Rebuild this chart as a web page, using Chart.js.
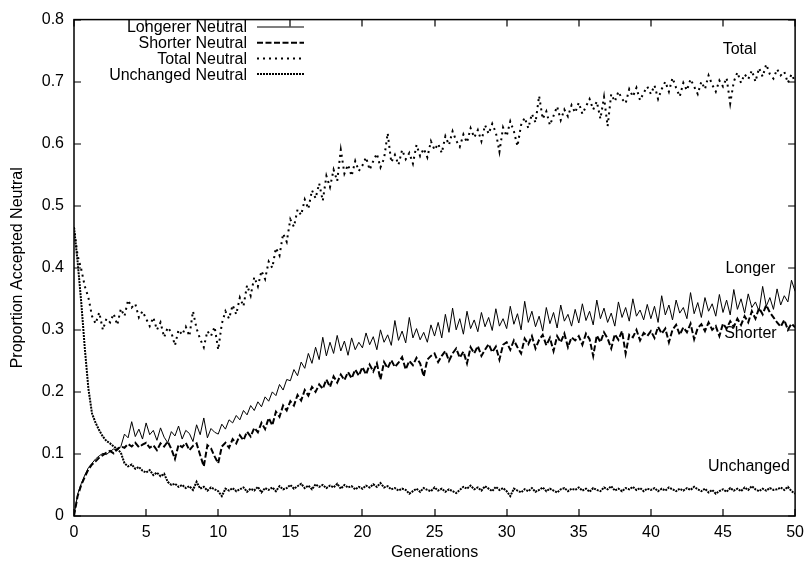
<!DOCTYPE html>
<html>
<head>
<meta charset="utf-8">
<title>Proportion Accepted Neutral</title>
<script src="https://cdn.jsdelivr.net/npm/chart.js@4"></script>
<style>
  html, body { margin: 0; padding: 0; background: #fff; }
  #wrap { width: 811px; height: 567px; }
</style>
</head>
<body>
<div id="wrap"><canvas id="chart" width="811" height="567"></canvas></div>
<script>
// One sample every quarter generation, generations 0..50 (201 samples per series)
const STEP = 0.25;

const longer = [
  0.000, 0.035, 0.052, 0.066, 0.078, 0.085, 0.092, 0.097, 0.101, 0.099, 0.104, 0.108, 0.106, 0.112, 0.132, 0.126, 0.152, 0.128, 0.140, 0.124,
  0.150, 0.131, 0.138, 0.122, 0.142, 0.127, 0.118, 0.136, 0.129, 0.145, 0.124, 0.138, 0.133, 0.120, 0.147, 0.131, 0.158, 0.126, 0.141, 0.135,
  0.132, 0.148, 0.140, 0.155, 0.150, 0.162, 0.155, 0.170, 0.163, 0.178, 0.170, 0.184, 0.176, 0.192, 0.185, 0.200, 0.194, 0.212, 0.203, 0.220,
  0.218, 0.236, 0.226, 0.248, 0.238, 0.262, 0.246, 0.272, 0.252, 0.288, 0.258, 0.280, 0.262, 0.291, 0.266, 0.282, 0.259, 0.287, 0.268, 0.280,
  0.271, 0.295, 0.276, 0.289, 0.268, 0.300, 0.280, 0.292, 0.275, 0.315, 0.283, 0.298, 0.279, 0.320, 0.287, 0.302, 0.284, 0.296, 0.280, 0.308,
  0.290, 0.312, 0.287, 0.325, 0.296, 0.335, 0.300, 0.318, 0.293, 0.330, 0.302, 0.316, 0.297, 0.328, 0.305, 0.320, 0.299, 0.334, 0.306, 0.318,
  0.302, 0.338, 0.309, 0.326, 0.300, 0.346, 0.312, 0.330, 0.305, 0.322, 0.298, 0.336, 0.310, 0.328, 0.303, 0.340, 0.314, 0.325, 0.306, 0.333,
  0.311, 0.342, 0.315, 0.330, 0.308, 0.348, 0.318, 0.335, 0.312, 0.327, 0.306, 0.345, 0.320, 0.336, 0.314, 0.350, 0.322, 0.332, 0.316, 0.341,
  0.318, 0.338, 0.312, 0.355, 0.324, 0.340, 0.316, 0.348, 0.327, 0.336, 0.318, 0.360, 0.326, 0.344, 0.320, 0.352, 0.330, 0.342, 0.322, 0.357,
  0.328, 0.348, 0.324, 0.365, 0.333, 0.350, 0.327, 0.358, 0.336, 0.345, 0.330, 0.370, 0.338, 0.352, 0.333, 0.366, 0.340, 0.355, 0.345, 0.380, 0.362
];

const shorter = [
  0.000, 0.032, 0.050, 0.063, 0.075, 0.083, 0.088, 0.094, 0.098, 0.102, 0.105, 0.101, 0.108, 0.112, 0.110, 0.116, 0.112, 0.118, 0.111, 0.115,
  0.118, 0.110, 0.114, 0.106, 0.117, 0.112, 0.120, 0.108, 0.092, 0.115, 0.111, 0.118, 0.106, 0.113, 0.117, 0.098, 0.080, 0.114, 0.109, 0.096,
  0.085, 0.112, 0.118, 0.110, 0.124, 0.117, 0.130, 0.122, 0.136, 0.128, 0.142, 0.135, 0.150, 0.140, 0.158, 0.146, 0.168, 0.160, 0.178, 0.170,
  0.185, 0.178, 0.195, 0.186, 0.203, 0.194, 0.208, 0.200, 0.212, 0.205, 0.220, 0.208, 0.225, 0.215, 0.228, 0.219, 0.232, 0.222, 0.236, 0.226,
  0.240, 0.228, 0.244, 0.233, 0.246, 0.220, 0.248, 0.238, 0.251, 0.240, 0.247, 0.256, 0.236, 0.250, 0.243, 0.255, 0.246, 0.225, 0.252, 0.258,
  0.262, 0.248, 0.258, 0.266, 0.250, 0.262, 0.270, 0.255, 0.265, 0.246, 0.272, 0.262, 0.274, 0.258, 0.268, 0.277, 0.264, 0.273, 0.252, 0.276,
  0.280, 0.268, 0.283, 0.272, 0.262, 0.286, 0.277, 0.290, 0.270, 0.284, 0.292, 0.275, 0.287, 0.266, 0.290, 0.280, 0.294, 0.272, 0.288, 0.283,
  0.290, 0.276, 0.294, 0.285, 0.258, 0.291, 0.280, 0.296, 0.286, 0.270, 0.293, 0.284, 0.298, 0.262, 0.292, 0.288, 0.300, 0.283, 0.295, 0.290,
  0.298, 0.287, 0.305, 0.294, 0.302, 0.280, 0.300, 0.308, 0.292, 0.304, 0.296, 0.310, 0.285, 0.303, 0.309, 0.298, 0.312, 0.300, 0.306, 0.290,
  0.310, 0.302, 0.314, 0.305, 0.318, 0.308, 0.322, 0.312, 0.330, 0.318, 0.335, 0.325, 0.340, 0.328, 0.320, 0.312, 0.305, 0.316, 0.300, 0.310, 0.304
];

const total = [
  0.465, 0.420, 0.398, 0.370, 0.352, 0.322, 0.310, 0.328, 0.300, 0.318, 0.312, 0.326, 0.308, 0.334, 0.322, 0.348, 0.336, 0.342, 0.320, 0.330,
  0.318, 0.306, 0.320, 0.300, 0.312, 0.288, 0.304, 0.296, 0.275, 0.300, 0.292, 0.305, 0.290, 0.330, 0.302, 0.285, 0.272, 0.298, 0.290, 0.305,
  0.268, 0.310, 0.330, 0.318, 0.340, 0.325, 0.352, 0.338, 0.372, 0.355, 0.385, 0.370, 0.395, 0.382, 0.410, 0.400, 0.432, 0.420, 0.455, 0.442,
  0.478, 0.466, 0.494, 0.485, 0.510, 0.495, 0.525, 0.512, 0.536, 0.508, 0.548, 0.530, 0.558, 0.540, 0.590, 0.552, 0.566, 0.548, 0.572, 0.556,
  0.565, 0.578, 0.558, 0.572, 0.584, 0.562, 0.576, 0.617, 0.570, 0.582, 0.566, 0.590, 0.575, 0.585, 0.568, 0.598, 0.580, 0.592, 0.578, 0.604,
  0.590, 0.600, 0.585, 0.612, 0.598, 0.620, 0.605, 0.595, 0.615, 0.602, 0.625, 0.610, 0.622, 0.604, 0.630, 0.616, 0.632, 0.618, 0.587, 0.626,
  0.612, 0.636, 0.620, 0.596, 0.630, 0.642, 0.625, 0.648, 0.634, 0.677, 0.640, 0.652, 0.630, 0.645, 0.660, 0.638, 0.655, 0.644, 0.662, 0.650,
  0.666, 0.648, 0.660, 0.672, 0.655, 0.668, 0.640, 0.675, 0.628, 0.680, 0.668, 0.684, 0.672, 0.665, 0.688, 0.676, 0.690, 0.670, 0.682, 0.692,
  0.680, 0.694, 0.672, 0.688, 0.700, 0.684, 0.706, 0.690, 0.676, 0.698, 0.686, 0.704, 0.692, 0.680, 0.700, 0.688, 0.710, 0.695, 0.684, 0.702,
  0.692, 0.706, 0.665, 0.700, 0.715, 0.698, 0.712, 0.704, 0.718, 0.700, 0.722, 0.708, 0.728, 0.712, 0.705, 0.720, 0.710, 0.716, 0.698, 0.712, 0.700
];

const unchanged = [
  0.465, 0.410, 0.345, 0.270, 0.205, 0.165, 0.150, 0.138, 0.128, 0.121, 0.117, 0.112, 0.108, 0.102, 0.085, 0.080, 0.083, 0.076, 0.079, 0.073,
  0.070, 0.074, 0.066, 0.070, 0.064, 0.068, 0.055, 0.050, 0.052, 0.047, 0.050, 0.045, 0.048, 0.042, 0.055, 0.044, 0.047, 0.041, 0.046, 0.043,
  0.040, 0.032, 0.044, 0.041, 0.045, 0.040, 0.043, 0.046, 0.039, 0.044, 0.041, 0.047, 0.038, 0.045, 0.042, 0.046, 0.040, 0.048, 0.043, 0.045,
  0.050, 0.044, 0.048, 0.052, 0.045, 0.049, 0.043, 0.051, 0.047, 0.050, 0.045, 0.049, 0.046, 0.052, 0.044, 0.050, 0.046, 0.048, 0.043, 0.047,
  0.044, 0.049, 0.046, 0.051, 0.047, 0.053, 0.046, 0.048, 0.043, 0.045, 0.041, 0.044, 0.042, 0.036, 0.040, 0.044, 0.039, 0.045, 0.042, 0.040,
  0.046, 0.041, 0.044, 0.039, 0.043, 0.040, 0.037, 0.042, 0.047, 0.044, 0.049, 0.043, 0.046, 0.041, 0.048, 0.044, 0.040, 0.047, 0.042, 0.045,
  0.040, 0.032, 0.044, 0.041, 0.038, 0.043, 0.040, 0.045, 0.039, 0.042, 0.046, 0.040, 0.044, 0.041, 0.038, 0.043, 0.045, 0.040, 0.044, 0.042,
  0.046, 0.041, 0.044, 0.039, 0.045, 0.042, 0.040, 0.046, 0.043, 0.048, 0.041, 0.044, 0.040, 0.045, 0.043, 0.047, 0.042, 0.045, 0.040, 0.044,
  0.042, 0.045, 0.040, 0.044, 0.041, 0.046, 0.043, 0.040, 0.044, 0.041, 0.045, 0.042, 0.047, 0.043, 0.040, 0.044, 0.038, 0.042, 0.036, 0.040,
  0.043, 0.039, 0.045, 0.041, 0.044, 0.040, 0.046, 0.042, 0.048, 0.043, 0.040, 0.044, 0.041, 0.045, 0.042, 0.043, 0.046, 0.042, 0.047, 0.040, 0.036
];

const seriesNames = ['Longerer Neutral', 'Shorter Neutral', 'Total Neutral', 'Unchanged Neutral'];
const curveNames = ['Total', 'Longer', 'Shorter', 'Unchanged'];

const FONT = "'Liberation Sans', Arial, Helvetica, sans-serif";
Chart.defaults.font.family = FONT;
Chart.defaults.font.size = 16;
Chart.defaults.color = '#000';

const toPoints = ys => ys.map((y, i) => ({ x: i * STEP, y }));

// line style per series, same order as seriesNames
const styles = [
  { width: 1,   dash: [] },
  { width: 2,   dash: [6, 2.5] },
  { width: 2,   dash: [2, 4] },
  { width: 2,   dash: [2, 1] }
];

// frame on all four sides with gnuplot style inward ticks
const framePlugin = {
  id: 'frame',
  afterDatasetsDraw(chart) {
    const { ctx, chartArea: a, scales: { x, y } } = chart;
    const len = 7;
    ctx.save();
    ctx.strokeStyle = '#000';
    ctx.lineWidth = 1.5;
    ctx.strokeRect(a.left, a.top, a.right - a.left, a.bottom - a.top);
    ctx.lineWidth = 1.2;
    ctx.beginPath();
    x.ticks.forEach(t => {
      const px = Math.round(x.getPixelForValue(t.value));
      ctx.moveTo(px, a.bottom); ctx.lineTo(px, a.bottom - len);
      ctx.moveTo(px, a.top); ctx.lineTo(px, a.top + len);
    });
    y.ticks.forEach(t => {
      const py = Math.round(y.getPixelForValue(t.value));
      ctx.moveTo(a.left, py); ctx.lineTo(a.left + len, py);
      ctx.moveTo(a.right, py); ctx.lineTo(a.right - len, py);
    });
    ctx.stroke();
    ctx.restore();
  }
};

// key in the top left corner: right aligned names, line sample after them
const keyPlugin = {
  id: 'key',
  afterDatasetsDraw(chart, args, opts) {
    const { ctx } = chart;
    ctx.save();
    ctx.font = '16px ' + FONT;
    ctx.fillStyle = '#000';
    ctx.textAlign = 'right';
    ctx.textBaseline = 'middle';
    seriesNames.forEach((name, i) => {
      const yy = opts.top + i * opts.rowHeight;
      ctx.fillText(name, opts.textRight, yy + 1);
      ctx.beginPath();
      ctx.lineWidth = styles[i].width;
      ctx.setLineDash(styles[i].dash);
      ctx.moveTo(opts.sampleLeft, yy);
      ctx.lineTo(opts.sampleRight, yy);
      ctx.stroke();
    });
    ctx.restore();
  }
};

// names written next to the curves, placed in data units
const curveLabelPlugin = {
  id: 'curveLabels',
  afterDatasetsDraw(chart, args, opts) {
    const { ctx, scales: { x, y } } = chart;
    ctx.save();
    ctx.font = '16px ' + FONT;
    ctx.fillStyle = '#000';
    ctx.textAlign = 'center';
    ctx.textBaseline = 'middle';
    curveNames.forEach((name, i) => {
      const at = opts.anchors[i];
      ctx.fillText(name, x.getPixelForValue(at[0]), y.getPixelForValue(at[1]));
    });
    ctx.restore();
  }
};

const allSeries = [longer, shorter, total, unchanged];

new Chart(document.getElementById('chart'), {
  type: 'line',
  data: {
    datasets: allSeries.map((ys, i) => ({
      label: seriesNames[i],
      data: toPoints(ys),
      borderColor: '#000',
      borderWidth: styles[i].width,
      borderDash: styles[i].dash,
      pointRadius: 0,
      tension: 0,
      fill: false
    }))
  },
  options: {
    responsive: false,
    animation: false,
    devicePixelRatio: 1,
    layout: { padding: { left: 0, right: 11, top: 13, bottom: 0 } },
    scales: {
      x: {
        type: 'linear',
        min: 0,
        max: 50,
        ticks: { stepSize: 5, padding: 7, maxRotation: 0 },
        grid: { display: false, drawTicks: false },
        border: { display: false },
        title: { display: true, text: 'Generations', padding: { top: 0, bottom: 5 } },
        afterFit(scale) { scale.height = 51; }
      },
      y: {
        min: 0,
        max: 0.8,
        ticks: {
          stepSize: 0.1,
          padding: 10,
          callback: v => (v === 0 ? '0' : v.toFixed(1))
        },
        grid: { display: false, drawTicks: false },
        border: { display: false },
        title: { display: true, text: 'Proportion Accepted Neutral', padding: { top: 8, bottom: 0 } },
        afterFit(scale) { scale.width = 74; }
      }
    },
    plugins: {
      legend: { display: false },
      tooltip: { enabled: false },
      key: { top: 27, rowHeight: 15.7, textRight: 247, sampleLeft: 257, sampleRight: 304 },
      curveLabels: { anchors: [[46.15, 0.752], [46.9, 0.399], [46.9, 0.294], [46.8, 0.0795]] }
    }
  },
  plugins: [framePlugin, keyPlugin, curveLabelPlugin]
});
</script>
</body>
</html>
